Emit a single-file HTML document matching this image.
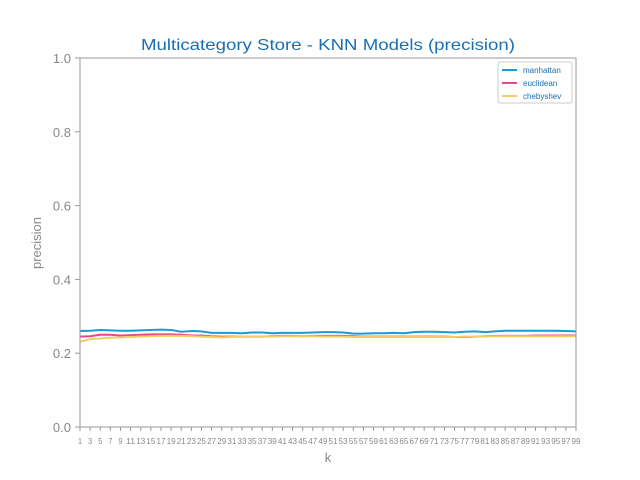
<!DOCTYPE html>
<html><head><meta charset="utf-8"><style>
html,body{margin:0;padding:0;background:#fff;}
svg{display:block;font-family:"Liberation Sans","DejaVu Sans",sans-serif;}
</style></head><body>
<svg id="chart" width="640" height="480">
<rect x="0" y="0" width="640" height="480" fill="#fff"/>
<text x="328" y="50" text-anchor="middle" font-size="16" textLength="374" lengthAdjust="spacingAndGlyphs" fill="#1a6fb0">Multicategory Store - KNN Models (precision)</text>
<g id="plot"></g>
<rect x="80" y="58" width="496" height="369" fill="none" stroke="#999" stroke-width="1"/>
<text x="328" y="462" text-anchor="middle" font-size="13" fill="#888">k</text>
<text x="41" y="243" text-anchor="middle" font-size="13" fill="#888" transform="rotate(-90 41 243)">precision</text>
<g>
<rect x="498" y="62" width="74" height="41" fill="#fff" stroke="#ccc" rx="2"/>
<line x1="502" y1="70" x2="517" y2="70" stroke="#1a9ad6" stroke-width="2"/>
<text x="523" y="73" font-size="8" fill="#1a6fb0">manhattan</text>
<line x1="502" y1="83" x2="517" y2="83" stroke="#e8488a" stroke-width="2"/>
<text x="523" y="86" font-size="8" fill="#1a6fb0">euclidean</text>
<line x1="502" y1="96" x2="517" y2="96" stroke="#f0cd68" stroke-width="2"/>
<text x="523" y="99" font-size="8" fill="#1a6fb0">chebyshev</text>
</g>
</svg>
<script>
const kValues = [];
for (let k = 1; k <= 99; k += 2) kValues.push(k);
const yTicks = [0, 0.2, 0.4, 0.6, 0.8, 1.0];
const manhattan = [0.260,0.261,0.263,0.262,0.261,0.261,0.262,0.263,0.264,0.263,0.258,0.260,0.259,0.255,0.255,0.255,0.254,0.256,0.256,0.254,0.255,0.255,0.255,0.256,0.257,0.257,0.256,0.253,0.253,0.254,0.254,0.255,0.254,0.257,0.258,0.258,0.257,0.256,0.258,0.259,0.257,0.259,0.261,0.261,0.261,0.261,0.261,0.261,0.260,0.259];
const euclidean = [0.245,0.246,0.250,0.250,0.248,0.249,0.250,0.251,0.251,0.251,0.250,0.248,0.248,0.246,0.245,0.245,0.245,0.245,0.245,0.246,0.247,0.247,0.246,0.247,0.247,0.247,0.247,0.246,0.245,0.245,0.245,0.245,0.245,0.245,0.245,0.245,0.245,0.244,0.244,0.245,0.246,0.247,0.247,0.247,0.247,0.248,0.248,0.248,0.248,0.248];
const chebyshev = [0.231,0.238,0.240,0.242,0.243,0.244,0.245,0.246,0.247,0.247,0.247,0.246,0.245,0.244,0.243,0.244,0.245,0.245,0.245,0.245,0.246,0.246,0.246,0.246,0.245,0.245,0.245,0.244,0.244,0.244,0.244,0.244,0.244,0.244,0.244,0.244,0.244,0.244,0.245,0.245,0.246,0.246,0.246,0.246,0.246,0.246,0.246,0.246,0.246,0.246];

const X0 = 80, X1 = 576, Y0 = 427, Y1 = 58;
function xs(k){ return X0 + (k - 1) / (99 - 1) * (X1 - X0); }
function ys(v){ return Y0 - v * (Y0 - Y1); }
const NS = "http://www.w3.org/2000/svg";
const plot = document.getElementById('plot');

yTicks.forEach(t => {
  const l = document.createElementNS(NS, 'line');
  l.setAttribute('x1', X0 - 5); l.setAttribute('x2', X0);
  l.setAttribute('y1', ys(t)); l.setAttribute('y2', ys(t));
  l.setAttribute('stroke', '#999');
  
  
  plot.appendChild(l);
  const tx = document.createElementNS(NS, 'text');
  tx.setAttribute('x', X0 - 9); tx.setAttribute('y', ys(t) + 5);
  tx.setAttribute('text-anchor', 'end'); tx.setAttribute('font-size', '13'); tx.setAttribute('fill', '#888');
  tx.textContent = t.toFixed(1);
  
  
  plot.appendChild(tx);
});
kValues.forEach(k => {
  const l = document.createElementNS(NS, 'line');
  l.setAttribute('x1', xs(k)); l.setAttribute('x2', xs(k));
  l.setAttribute('y1', Y0); l.setAttribute('y2', Y0 + 4);
  l.setAttribute('stroke', '#999');
  
  
  plot.appendChild(l);
  const tx = document.createElementNS(NS, 'text');
  tx.setAttribute('x', xs(k)); tx.setAttribute('y', Y0 + 17);
  tx.setAttribute('text-anchor', 'middle'); tx.setAttribute('font-size', '8'); tx.setAttribute('fill', '#888');
  tx.setAttribute('textLength', k >= 10 ? '9' : '4'); tx.setAttribute('lengthAdjust', 'spacingAndGlyphs');
  tx.textContent = k;
  
  
  plot.appendChild(tx);
});
function drawLine(vals, color, name){
  const p = document.createElementNS(NS, 'polyline');
  p.setAttribute('points', vals.map((v, i) => xs(kValues[i]) + ',' + ys(v)).join(' '));
  p.setAttribute('fill', 'none'); p.setAttribute('stroke', color); p.setAttribute('stroke-width', '2');
  p.setAttribute('stroke-linejoin', 'round');
  
  
  plot.appendChild(p);
}
drawLine(manhattan, '#1a9ad6', 'manhattan-line');
drawLine(euclidean, '#e8488a', 'euclidean-line');
drawLine(chebyshev, '#f0cd68', 'chebyshev-line');
</script>
</body></html>
